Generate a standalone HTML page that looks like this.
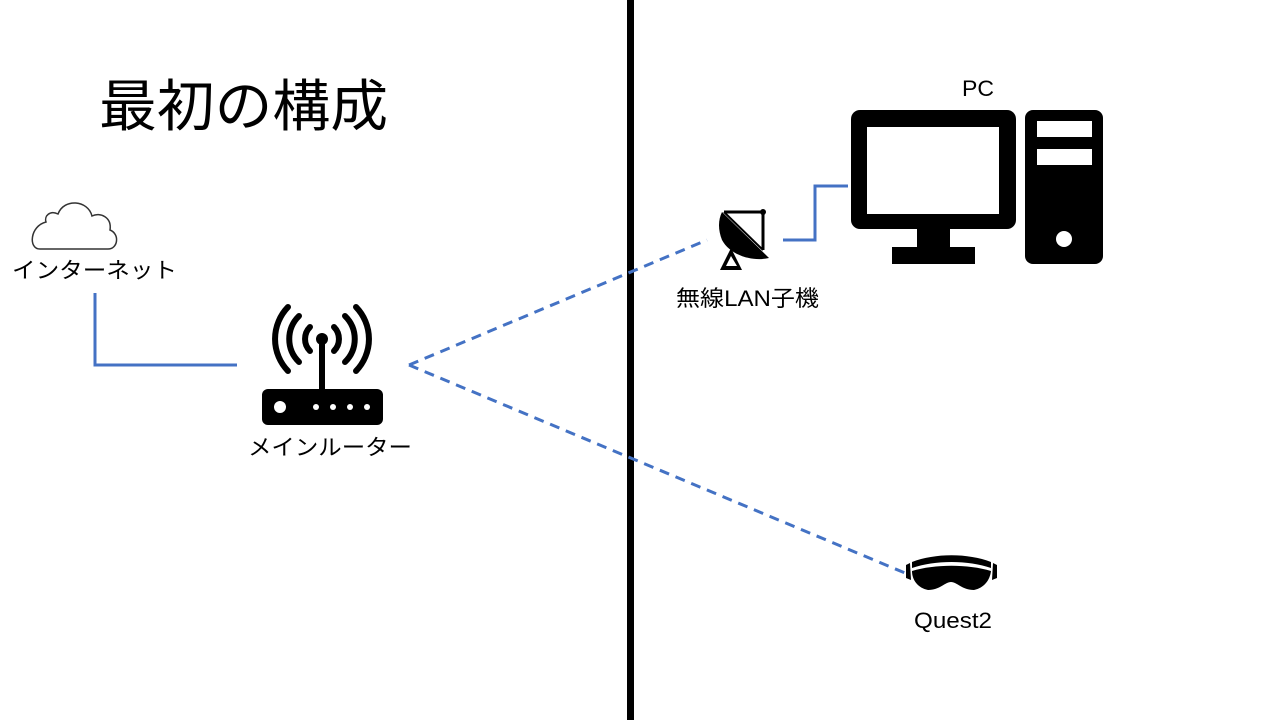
<!DOCTYPE html>
<html><head><meta charset="utf-8"><style>
html,body{margin:0;padding:0;background:#fff;}
svg{display:block;}
text{font-family:"Liberation Sans","Noto Sans CJK JP",sans-serif;fill:#000;}
</style></head><body>
<svg width="1280" height="720" viewBox="0 0 1280 720" xmlns="http://www.w3.org/2000/svg">
<rect x="627" y="0" width="7" height="720" fill="#000"/>
<text x="99" y="126" font-size="56" textLength="289" lengthAdjust="spacingAndGlyphs">最初の構成</text>

<!-- cloud -->
<path d="M40,249 H108 C118,249 120,234 110,230 C112,217 100,212 92,216 C88,200 64,198 58,214 C50,210 44,216 46,222 C30,226 28,249 40,249 Z" fill="none" stroke="#333" stroke-width="1.5"/>
<text x="12" y="278" font-size="22" textLength="165" lengthAdjust="spacingAndGlyphs">インターネット</text>

<!-- lines -->
<g stroke="#4472C4" stroke-width="3" fill="none">
<polyline points="95,293 95,365 237,365"/>
<polyline points="783,240 815,240 815,186 848,186"/>
<line x1="409" y1="365" x2="707" y2="240" stroke-dasharray="10,7"/>
<line x1="409" y1="365" x2="905" y2="573" stroke-dasharray="10,7"/>
</g>

<!-- router -->
<g fill="#000">
<rect x="262" y="389" width="121" height="36" rx="6"/>
<circle cx="322" cy="339" r="6"/>
<rect x="319" y="339" width="6" height="52"/>
</g>
<g fill="#fff">
<circle cx="280" cy="407" r="6"/>
<circle cx="316" cy="407" r="3"/><circle cx="333" cy="407" r="3"/><circle cx="350" cy="407" r="3"/><circle cx="367" cy="407" r="3"/>
</g>
<g stroke="#000" stroke-width="6" fill="none" stroke-linecap="round">
<path d="M310,327 A17,17 0 0 0 310,351"/><path d="M334,327 A17,17 0 0 1 334,351"/>
<path d="M299,316 A32,32 0 0 0 299,362"/><path d="M345,316 A32,32 0 0 1 345,362"/>
<path d="M288,307 A46,46 0 0 0 288,371"/><path d="M356,307 A46,46 0 0 1 356,371"/>
</g>
<text x="248" y="455" font-size="22" textLength="164" lengthAdjust="spacingAndGlyphs">メインルーター</text>

<!-- dish -->
<g>
<path d="M722,212 L769,258 C752,262 730,255 722,240 C718,230 718,220 722,212 Z" fill="#000"/>
<path d="M724,212 H763 V250" fill="none" stroke="#000" stroke-width="3"/>
<line x1="724" y1="212" x2="763" y2="250" stroke="#000" stroke-width="2"/>
<circle cx="763" cy="212" r="3" fill="#000"/>
<path d="M731,248 L720,270 H742 Z M731,256 L726,266 H737 Z" fill="#000" fill-rule="evenodd"/>
</g>
<text x="676" y="306" font-size="22" textLength="143" lengthAdjust="spacingAndGlyphs">無線LAN子機</text>

<!-- PC -->
<text x="962" y="96" font-size="22" textLength="32" lengthAdjust="spacingAndGlyphs">PC</text>
<rect x="851" y="110" width="165" height="119" rx="9" fill="#000"/>
<rect x="867" y="127" width="132" height="87" fill="#fff"/>
<rect x="917" y="228" width="33" height="20" fill="#000"/>
<rect x="892" y="247" width="83" height="17" fill="#000"/>
<rect x="1025" y="110" width="78" height="154" rx="8" fill="#000"/>
<rect x="1037" y="121" width="55" height="16" fill="#fff"/>
<rect x="1037" y="149" width="55" height="16" fill="#fff"/>
<circle cx="1064" cy="239" r="8" fill="#fff"/>

<!-- headset -->
<path d="M912,562 C935,553 968,553 991,562 L991,568 C968,560 935,560 912,568 Z" fill="#000"/>
<path d="M912,571 C935,564 968,564 991,571 C990,580 984,588 974,590 C962,590 957,582 951,582 C945,582 940,590 928,590 C918,588 912,580 912,571 Z" fill="#000"/>
<path d="M906,565 L910,563 L911,580 L906,578 Z M997,565 L993,563 L992,580 L997,578 Z" fill="#000"/>
<text x="914" y="628" font-size="22" textLength="78" lengthAdjust="spacingAndGlyphs">Quest2</text>
</svg>
</body></html>
